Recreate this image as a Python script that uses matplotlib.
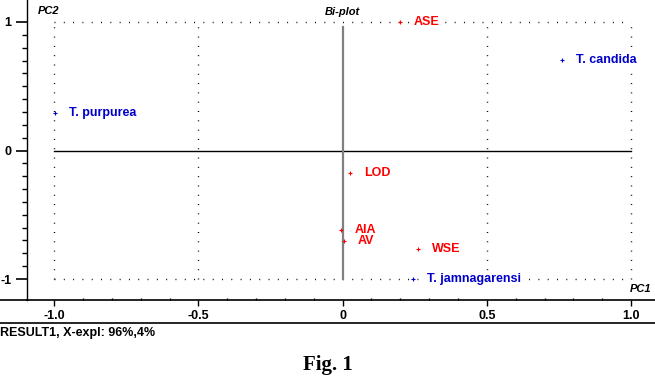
import numpy as np
import matplotlib
matplotlib.use("Agg")
import matplotlib.pyplot as plt
from matplotlib.lines import Line2D

# -------------------------------
# Data (read off the bi-plot)
# -------------------------------
obj_names = ['T. purpurea', 'T. candida', 'T. jamnagarensi']
obj_pc1 = [-0.997, 0.761, 0.244]
obj_pc2 = [0.29, 0.704, -1.0]

var_names = ['ASE', 'LOD', 'AIA', 'AV', 'WSE']
var_pc1 = [0.199, 0.026, -0.005, 0.005, 0.262]
var_pc2 = [1.0, -0.175, -0.619, -0.704, -0.767]

x_ticks = [-1.0, -0.5, 0.0, 0.5, 1.0]
x_ticklabels = ['-1.0', '-0.5', '0', '0.5', '1.0']
y_ticks = [-1, 0, 1]
y_ticklabels = ['-1', '0', '1']

# -------------------------------
# Figure
# -------------------------------
W, H = 655, 378
fig = plt.figure(figsize=(W / 100, H / 100), dpi=100)
ax = fig.add_axes([27 / W, (H - 300) / H, (W - 27) / W, 300 / H])

font = 'Liberation Sans'
fs = 9

ax.set_xlim(-1.094, 1.083)
ax.set_ylim(-1.163, 1.171)

for s in ['top', 'right']:
    ax.spines[s].set_visible(False)
ax.spines['left'].set_linewidth(1)
ax.spines['bottom'].set_linewidth(1.2)

# dotted grid lines
dot = (0, (0.7, 6.0))
for yy in [1, -1]:
    ax.plot([-1, 1], [yy, yy], color='black', lw=1, ls=dot, zorder=1)
for xx in [-1, -0.5, 0.5, 1]:
    ax.plot([xx, xx], [-1, 1], color='black', lw=1, ls=dot, zorder=1)

# axes through origin
ax.plot([-1, 1], [0, 0], color='black', lw=1, zorder=2)
ax.plot([0, 0], [-1, 0.96], color='#808080', lw=1.6, zorder=2)

# points
ax.scatter(obj_pc1, obj_pc2, marker='+', s=9, color='#0000cc', lw=0.8, zorder=3)
ax.scatter(var_pc1, var_pc2, marker='+', s=9, color='#ff0000', lw=0.8, zorder=3)
for n, x, y in zip(obj_names, obj_pc1, obj_pc2):
    ax.annotate(n, (x, y), xytext=(10, 0), textcoords='offset points', va='center',
                color='#0000cc', fontsize=fs, fontweight='bold', family=font,
                bbox=dict(facecolor='white', edgecolor='none', pad=0.3))
for n, x, y in zip(var_names, var_pc1, var_pc2):
    ax.annotate(n, (x, y), xytext=(10, 0), textcoords='offset points', va='center',
                color='#ff0000', fontsize=fs, fontweight='bold', family=font,
                bbox=dict(facecolor='white', edgecolor='none', pad=0.3))

# ticks
ax.set_xticks(x_ticks)
ax.set_xticklabels(x_ticklabels)
ax.set_xticks(np.arange(-1.0, 1.01, 0.1), minor=True)
ax.set_yticks(y_ticks)
ax.set_yticklabels(y_ticklabels)
ax.set_yticks(np.arange(-1.0, 1.01, 0.1), minor=True)
ax.tick_params(axis='x', which='major', direction='out', length=4.5, width=1, pad=3)
ax.tick_params(axis='x', which='minor', direction='in', length=1.5, width=1)
ax.tick_params(axis='y', which='major', direction='out', length=8, width=1.2, pad=3)
ax.tick_params(axis='y', which='minor', direction='out', length=3.6, width=1)
for lab in ax.get_xticklabels() + ax.get_yticklabels():
    lab.set_fontweight('bold')
    lab.set_fontfamily(font)
    lab.set_fontsize(fs)

# corner labels
ax.text(-1.055, 1.088, 'PC2', style='italic', fontweight='bold', family=font,
        fontsize=8, ha='left', va='center')
ax.text(0.0, 1.075, 'Bi-plot', style='italic', fontweight='bold', family=font,
        fontsize=8, ha='center', va='center')
ax.text(1.07, -1.08, 'PC1', style='italic', fontweight='bold', family=font,
        fontsize=8, ha='right', va='center')

# frame lines below the plot
fig.add_artist(Line2D([0, 27 / W], [(H - 300) / H] * 2, color='black', lw=1.2))
fig.add_artist(Line2D([0, 1], [(H - 323) / H] * 2, color='black', lw=1.2))
fig.text(0, (H - 333) / H, 'RESULT1, X-expl: 96%,4%', fontsize=fs,
         fontweight='bold', family=font, ha='left', va='center')
fig.text(328 / W, (H - 365) / H, 'Fig. 1', fontsize=15, fontweight='bold',
         family='Liberation Serif', ha='center', va='center')

fig.savefig('out.png', dpi=100)
